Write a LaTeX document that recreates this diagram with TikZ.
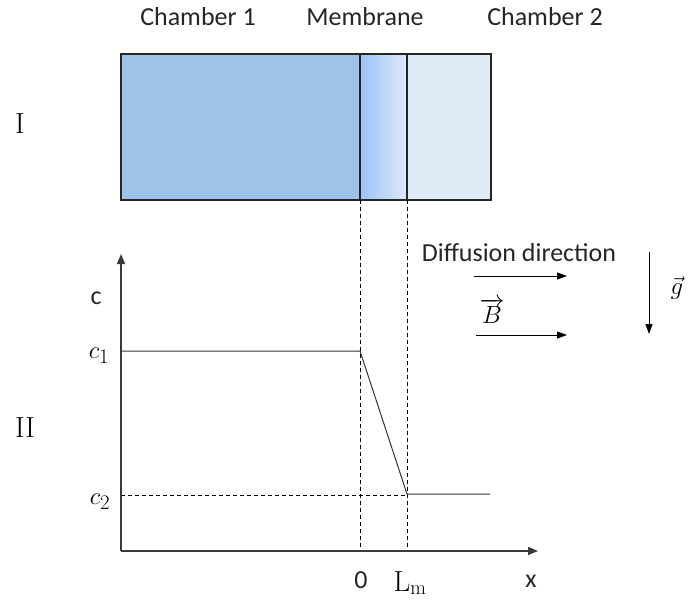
\documentclass[tikz,border=0pt]{standalone}
\usepackage{fontspec}
\newfontfamily\calibri{Carlito}
\usetikzlibrary{arrows.meta}
\definecolor{chone}{HTML}{9DC3E6}
\definecolor{chtwo}{HTML}{DEEBF7}
\definecolor{memL}{HTML}{9CC2F7}
\definecolor{memR}{HTML}{DFE9F9}
\definecolor{lineg}{HTML}{3A3A3A}
\begin{document}
\begin{tikzpicture}[x=1pt,y=-1pt,
  lab/.style={font=\calibri\fontsize{26}{30}\selectfont, inner sep=0pt, text=black!85},
  rom/.style={font=\fontsize{29}{32}\selectfont, inner sep=0pt},
  mth/.style={font=\fontsize{31}{34}\selectfont, inner sep=0pt},
  boxline/.style={line width=1.1pt, draw=black!85},
  axisline/.style={line width=1.4pt, draw=lineg},
  dashline/.style={line width=0.9pt, draw=black, dash pattern=on 4pt off 3pt},
  tip/.style={-{Triangle[length=10pt,width=8pt]}},
  thinarrow/.style={line width=1pt, -{Triangle[length=10pt,width=7pt]}}
]
\useasboundingbox (0,0) rectangle (690,610);
% top labels
\node[lab] (ch1) at (198,17) {Chamber 1};
\node[lab] (mem) at (365,17) {Membrane};
\node[lab] (ch2) at (545,17) {Chamber 2};
\node[rom] (I) at (20,124) {I};
\node[rom] (II) at (25,428) {II};
% box
\coordinate (tl) at (121,54);
\coordinate (m0t) at (360,54);
\coordinate (m0b) at (360,200);
\coordinate (m1t) at (407,54);
\coordinate (m1b) at (407,200);
\coordinate (br) at (491,200);
\fill[chone] (tl) rectangle (m0b);
\shade[left color=memL, right color=memR] (m0t) rectangle (m1b);
\fill[chtwo] (m1t) rectangle (br);
\draw[boxline] (tl) rectangle (br);
\draw[boxline] (m0t) -- (m0b);
\draw[boxline] (m1t) -- (m1b);
% axes
\coordinate (O) at (121,551);
\coordinate (xend) at (538,551);
\coordinate (yend) at (121,254);
\coordinate (x0) at (360,551);
\coordinate (xL) at (407,551);
\draw[dashline] (m0b) -- (x0);
\draw[dashline] (m1b) -- (xL);
\draw[dashline] (121,495) -- (407,495);
\draw[axisline, tip] (O) -- (xend);
\draw[axisline, tip] (O) -- (yend);
% curve
\coordinate (p1) at (122,351);
\coordinate (p2) at (360,351);
\coordinate (p3) at (407,494);
\coordinate (p4) at (490,494);
\draw[line width=1pt, draw=black!80] (p1) -- (p2) -- (p3) -- (p4);
% axis labels
\node[lab] (clab) at (96,298) {c};
\node[mth] (c1) at (99,356) {$c_1$};
\node[mth] (c2) at (100,502) {$c_2$};
\node[lab] (zero) at (361,580) {0};
\node[rom] (Lm) at (410,583) {$\mathrm{L_m}$};
\node[lab] (xlab) at (531,581) {x};
% arrows
\node[lab] (diff) at (519,253) {Diffusion direction};
\coordinate (d0) at (474,276);
\coordinate (d1) at (567,276);
\draw[thinarrow] (d0) -- (d1);
\node[mth] (B) at (492,311) {$\overrightarrow{B}$};
\coordinate (b0) at (476,335);
\coordinate (b1) at (567,335);
\draw[thinarrow] (b0) -- (b1);
\coordinate (g0) at (649,252);
\coordinate (g1) at (649,334);
\draw[thinarrow] (g0) -- (g1);
\node[mth] (g) at (677,288) {$\vec{g}$};
\end{tikzpicture}
\end{document}
